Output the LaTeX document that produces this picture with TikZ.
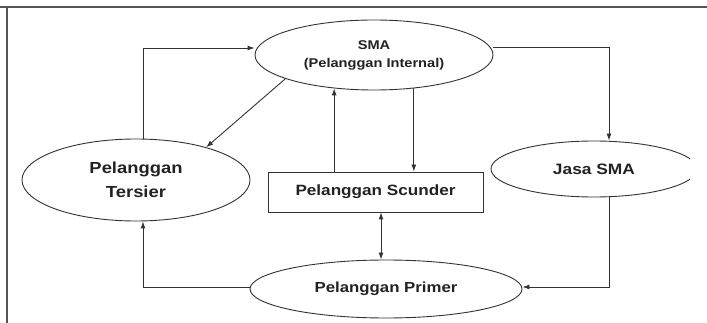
\documentclass[tikz,border=0pt]{standalone}
\usepackage{fontspec}
\newfontfamily\lab[FakeStretch=1.15]{Liberation Sans}
\usetikzlibrary{shapes.geometric,arrows.meta}
\definecolor{linec}{HTML}{333333}
\definecolor{textc}{HTML}{222222}
\definecolor{bordc}{HTML}{555555}
\begin{document}
\begin{tikzpicture}[x=1pt,y=-1pt,
  ell/.style={ellipse,draw=linec,line width=0.9pt,inner sep=0pt,text=textc,align=center},
  boxn/.style={rectangle,draw=linec,line width=0.9pt,inner sep=0pt,text=textc},
  arr/.style={draw=linec,line width=0.9pt,-{Latex[length=7pt,width=5pt]}},
  darr/.style={draw=linec,line width=0.9pt,{Latex[length=7pt,width=5pt]}-{Latex[length=7pt,width=5pt]}}]
\useasboundingbox (0,0) rectangle (707,323);
\fill[white] (0,0) rectangle (707,323);
\draw[bordc,line width=2pt] (0,7) -- (707,7);
\draw[bordc,line width=2pt] (7,7) -- (7,323);

\node[ell,minimum width=238pt,minimum height=70pt,font=\lab\bfseries\fontsize{12.7}{18}\selectfont]
  (sma) at (374,55) {SMA\\(Pelanggan Internal)};
\node[ell,minimum width=228pt,minimum height=82pt,font=\lab\bfseries\fontsize{16}{24}\selectfont]
  (ter) at (136,180) {Pelanggan\\Tersier};
\node[boxn,minimum width=215pt,minimum height=40pt,font=\lab\bfseries\fontsize{14.9}{18}\selectfont]
  (scu) at (375.5,192) {Pelanggan Scunder};
\begin{scope}
\clip (0,0) rectangle (690,323);
\node[ell,minimum width=206pt,minimum height=56pt,font=\lab\bfseries\fontsize{15.1}{18}\selectfont]
  (jasa) at (594,169) {Jasa SMA};
\end{scope}
\node[ell,minimum width=272pt,minimum height=58pt,font=\lab\bfseries\fontsize{14.6}{18}\selectfont]
  (pri) at (386,289) {Pelanggan Primer};

\draw[arr] ([xshift=7pt]ter.north) |- ([yshift=7pt]sma.west);
\draw[arr] ([yshift=8pt]sma.east) -| ([xshift=15pt]jasa.north);
\draw[arr] (sma.195) -- (ter.25);
\draw[arr] (sma.220.3 |- scu.north) -- (sma.220.3);
\draw[arr] (sma.320.5) -- (sma.320.5 |- scu.north);
\draw[darr] ([xshift=5.5pt]scu.south) -- ([xshift=5.5pt]scu.south |- pri.north);
\draw[arr] ([xshift=15pt]jasa.south) |- ([yshift=2pt]pri.east);
\draw[arr] ([yshift=2pt]pri.west) -| ([xshift=7pt]ter.south);
\end{tikzpicture}
\end{document}
